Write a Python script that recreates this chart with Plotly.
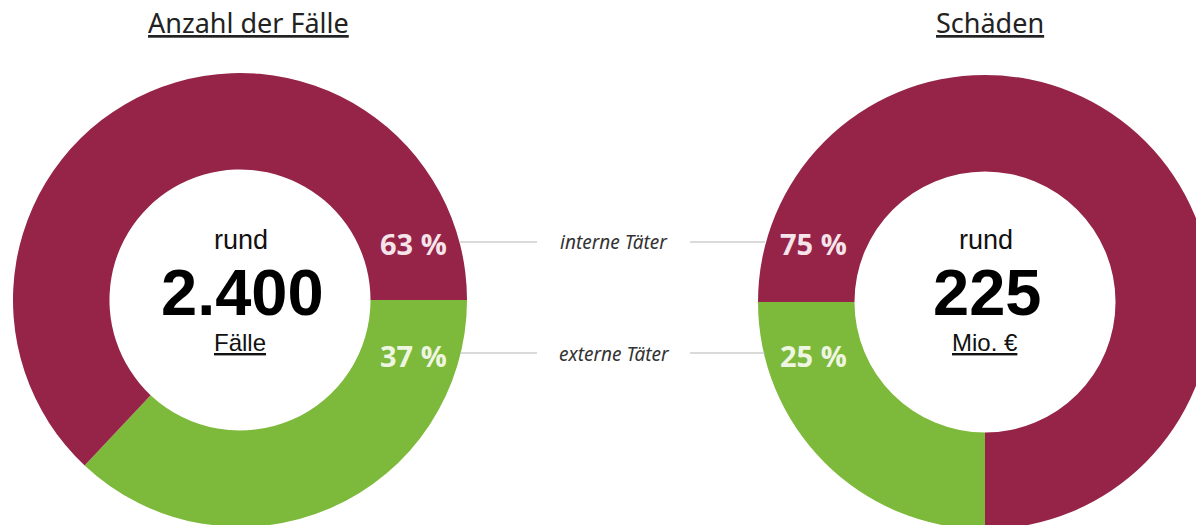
import plotly.graph_objects as go

# ---- data ----
categories = ["externe Täter", "interne Täter"]
cases_share = [37, 63]        # Anzahl der Fälle, %
damage_share = [25, 75]       # Schäden, %
titles = ["Anzahl der Fälle", "Schäden"]
totals = ["2.400", "225"]
units = ["Fälle", "Mio. €"]
prefix = "rund"

colors = ["#7DB93A", "#952448"]
label_colors = ["#EEF6E2", "#F6E4EA"]

# ---- layout geometry (pixels) ----
W, H = 1240, 545
R = 227
HOLE = 0.575
centers = [(240, 300), (985, 302)]


def px(x):
    return x / W


def py(y):
    return 1 - y / H


def domain(cx, cy, r):
    return dict(x=[px(cx - r), px(cx + r)], y=[py(cy + r), py(cy - r)])


fig = go.Figure()
fig.add_trace(go.Pie(
    labels=categories, values=cases_share, hole=HOLE, sort=False,
    direction="clockwise", rotation=90, textinfo="none", hoverinfo="label+percent",
    marker=dict(colors=colors, line=dict(width=0)),
    domain=domain(*centers[0], R), showlegend=False,
))
fig.add_trace(go.Pie(
    labels=categories, values=damage_share, hole=HOLE, sort=False,
    direction="clockwise", rotation=180, textinfo="none", hoverinfo="label+percent",
    marker=dict(colors=colors, line=dict(width=0)),
    domain=domain(*centers[1], R), showlegend=False,
))

ann = []
title_x = [248, 990]
for i in range(2):
    cx, cy = centers[i]
    ann.append(dict(x=px(title_x[i]), y=py(22), text=f"<u>{titles[i]}</u>",
                    font=dict(family="Noto Sans", size=27, color="#222")))
    ann.append(dict(x=px(cx + 1), y=py(240), text=prefix,
                    font=dict(family="Liberation Sans", size=27, color="#111")))
    ann.append(dict(x=px(cx + 2), y=py(292), text=f"<b>{totals[i]}</b>",
                    font=dict(family="Liberation Sans", size=65, color="#000")))
    ann.append(dict(x=px(cx), y=py(342), text=f"<u>{units[i]}</u>",
                    font=dict(family="Liberation Sans", size=24, color="#111")))

# percentage labels on the rings
label_x = [413, 813]
label_y = {"interne Täter": 243, "externe Täter": 355}
shares = [cases_share, damage_share]
for i in range(2):
    for j, cat in enumerate(categories):
        ann.append(dict(x=px(label_x[i]), y=py(label_y[cat]),
                        text=f"<b>{shares[i][j]} %</b>",
                        font=dict(family="Open Sans", size=29, color=label_colors[j])))

# connector labels
for cat in categories:
    ann.append(dict(x=px(614), y=py(label_y[cat] - 1), text=f"<i>{cat}</i>",
                    font=dict(family="Noto Sans", size=19, color="#333")))

for a in ann:
    a.update(xref="paper", yref="paper", showarrow=False, xanchor="center", yanchor="middle")

shapes = []
line_y = {"interne Täter": 242, "externe Täter": 353}
for cat in categories:
    y = line_y[cat]
    for x0, x1 in [(460, 537), (690, 765)]:
        shapes.append(dict(type="line", xref="paper", yref="paper",
                           x0=px(x0), x1=px(x1), y0=py(y), y1=py(y),
                           line=dict(color="#B5B5B5", width=1)))

fig.update_layout(
    width=W, height=H, margin=dict(l=0, r=0, t=0, b=0),
    paper_bgcolor="white", plot_bgcolor="white",
    annotations=ann, shapes=shapes,
)

fig.write_html("out.html", config={"displayModeBar": False},
               post_script="document.body.style.margin='0';document.body.style.overflow='hidden';"
                           "document.documentElement.style.overflow='hidden';")
